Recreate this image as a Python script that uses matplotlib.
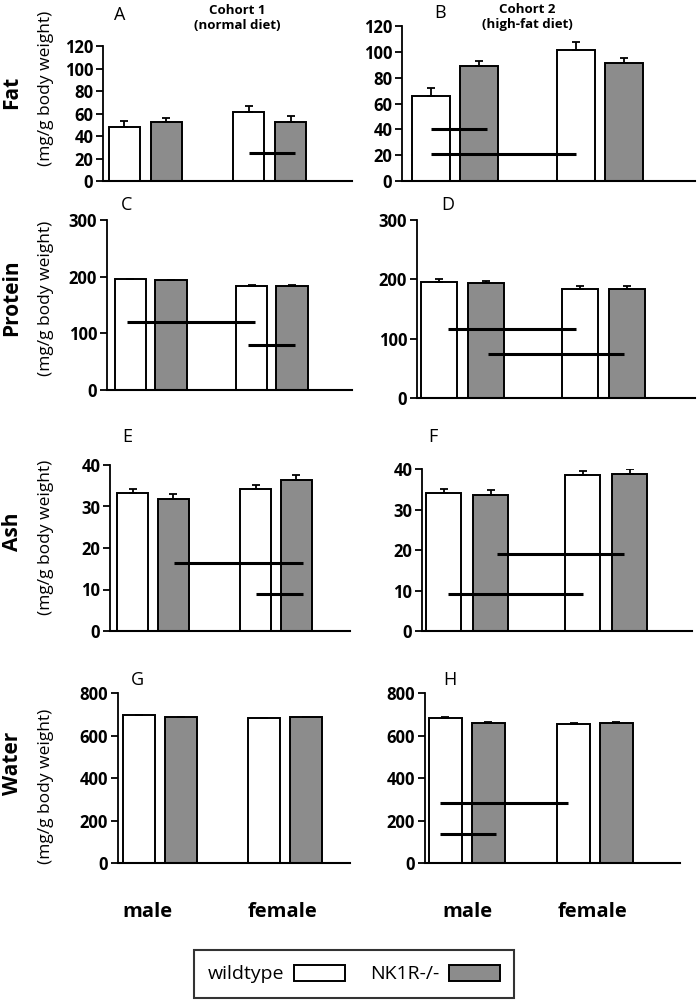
import matplotlib
matplotlib.use("Agg")
import matplotlib.pyplot as plt

plt.rcParams['font.family'] = ['Open Sans', 'DejaVu Sans']

# ---------------- data ----------------
groups = ['male', 'female']
genotypes = ['wildtype', 'NK1R-/-']
panel_letters = ['A', 'B', 'C', 'D', 'E', 'F', 'G', 'H']
row_names = ['Fat', 'Protein', 'Ash', 'Water']
unit_label = '(mg/g body weight)'
cohort_titles = ['Cohort 1\n(normal diet)', 'Cohort 2\n(high-fat diet)']

fat_c1_wt = [48, 61];        fat_c1_wt_err = [5.6, 6.0]
fat_c1_ko = [52.7, 52.7];    fat_c1_ko_err = [3.0, 4.8]
fat_c2_wt = [66, 101.7];     fat_c2_wt_err = [6.3, 6.0]
fat_c2_ko = [89.3, 91.1];    fat_c2_ko_err = [3.6, 4.4]

protein_c1_wt = [196, 184];      protein_c1_wt_err = [0.5, 0.5]
protein_c1_ko = [193.4, 184];    protein_c1_ko_err = [1.5, 1.5]
protein_c2_wt = [195.7, 183.4];  protein_c2_wt_err = [5, 5]
protein_c2_ko = [194, 183.4];    protein_c2_ko_err = [3.4, 5]

ash_c1_wt = [33.2, 34.1];  ash_c1_wt_err = [1.0, 1.1]
ash_c1_ko = [31.8, 36.5];  ash_c1_ko_err = [1.1, 1.0]
ash_c2_wt = [34.1, 38.5];  ash_c2_wt_err = [1.0, 1.1]
ash_c2_ko = [33.7, 38.8];  ash_c2_ko_err = [1.2, 1.1]

water_c1_wt = [696, 684];  water_c1_wt_err = [0, 0]
water_c1_ko = [689, 689];  water_c1_ko_err = [0, 0]
water_c2_wt = [682, 652];  water_c2_wt_err = [5, 6]
water_c2_ko = [657, 657];  water_c2_ko_err = [5, 5]

yticks = {'Fat': [0, 20, 40, 60, 80, 100, 120],
          'Protein': [0, 100, 200, 300],
          'Ash': [0, 10, 20, 30, 40],
          'Water': [0, 200, 400, 600, 800]}

# significance lines: (y, x_start, x_end) in bar-position units
sig_A = [(24.6, 2.96, 4.06)]
sig_B = [(40.3, 0.01, 1.17), (21.2, 0.01, 3.02)]
sig_C = [(120.7, -0.09, 3.07), (79.7, 2.91, 4.06)]
sig_D = [(116.6, 0.18, 2.91), (74.6, 1.04, 3.94)]
sig_E = [(16.5, 1.03, 4.2), (8.8, 3.05, 4.2)]
sig_F = [(19.0, 1.13, 3.84), (9.07, 0.09, 2.97)]
sig_G = []
sig_H = [(284, -0.12, 2.87), (135, -0.12, 1.19)]

panels = [
    ('Fat', fat_c1_wt, fat_c1_wt_err, fat_c1_ko, fat_c1_ko_err, sig_A),
    ('Fat', fat_c2_wt, fat_c2_wt_err, fat_c2_ko, fat_c2_ko_err, sig_B),
    ('Protein', protein_c1_wt, protein_c1_wt_err, protein_c1_ko, protein_c1_ko_err, sig_C),
    ('Protein', protein_c2_wt, protein_c2_wt_err, protein_c2_ko, protein_c2_ko_err, sig_D),
    ('Ash', ash_c1_wt, ash_c1_wt_err, ash_c1_ko, ash_c1_ko_err, sig_E),
    ('Ash', ash_c2_wt, ash_c2_wt_err, ash_c2_ko, ash_c2_ko_err, sig_F),
    ('Water', water_c1_wt, water_c1_wt_err, water_c1_ko, water_c1_ko_err, sig_G),
    ('Water', water_c2_wt, water_c2_wt_err, water_c2_ko, water_c2_ko_err, sig_H),
]

# ---------------- layout (pixels) ----------------
W, H = 697, 1005
# left, right, baseline, top  (pixel)
boxes = [(103, 352, 181, 46), (402, 695, 181, 26),
         (107, 352, 390, 220), (417, 695, 398, 220),
         (110, 350, 631, 465), (422, 692, 631, 469),
         (118, 350, 863, 693), (425, 680, 863, 693)]
# female group offset, bar width, xlim
geo = [(2.96, .74, (-0.51, 5.42)), (3.03, .79, (-0.60, 5.5)),
       (2.99, .77, (-0.58, 5.47)), (3.01, .77, (-0.47, 5.45)),
       (3.04, .77, (-0.56, 5.37)), (2.96, .745, (-0.46, 5.29)),
       (2.98, .76, (-0.5, 5.02)), (2.99, .77, (-0.47, 5.47))]
letter_pos = [(120, 15), (440, 13), (127, 205), (448, 205),
              (127, 437), (433, 437), (137, 680), (450, 680)]

GRAY = '#8c8c8c'
fig = plt.figure(figsize=(W / 100, H / 100), dpi=100)

def fx(px):
    return px / W

def fy(py):
    return 1 - py / H

handles = None
for i, (name, wt, wte, ko, koe, sig) in enumerate(panels):
    l, r, b, t = boxes[i]
    ax = fig.add_axes([fx(l), fy(b), (r - l) / W, (b - t) / H])
    off, w, xl = geo[i]
    xw = [0, off]
    xk = [1, off + 1]
    bw = ax.bar(xw, wt, width=w, color='white', edgecolor='black', linewidth=1.4, zorder=2)
    bk = ax.bar(xk, ko, width=w, color=GRAY, edgecolor='black', linewidth=1.4, zorder=2)
    ax.errorbar(xw, wt, yerr=[[0, 0], wte], fmt='none', ecolor='black',
                elinewidth=1.3, capsize=3, capthick=1.3, zorder=3)
    ax.errorbar(xk, ko, yerr=[[0, 0], koe], fmt='none', ecolor='black',
                elinewidth=1.3, capsize=3, capthick=1.3, zorder=3)
    for (yv, x0, x1) in sig:
        ax.plot([x0, x1], [yv, yv], color='black', lw=2.2, zorder=4, solid_capstyle='butt')
    tk = yticks[name]
    ax.set_ylim(0, tk[-1])
    ax.set_yticks(tk)
    ax.set_xlim(*xl)
    ax.set_xticks([])
    ax.spines['top'].set_visible(False)
    ax.spines['right'].set_visible(False)
    ax.spines['left'].set_linewidth(1.3)
    ax.spines['bottom'].set_linewidth(1.5)
    ax.tick_params(axis='y', direction='out', length=5, width=1.3, pad=2,
                   labelsize=12)
    for lab in ax.get_yticklabels():
        lab.set_fontweight('bold')
    lx, ly = letter_pos[i]
    fig.text(fx(lx), fy(ly), panel_letters[i], fontsize=13, ha='center', va='center')
    if handles is None:
        handles = [bw, bk]

# row labels
row_y = [(92, 88), (298, 298), (532, 537), (763, 786)]
for name, (yb, yu) in zip(row_names, row_y):
    fig.text(fx(12), fy(yb), name, rotation=90, fontsize=15, fontweight='bold',
             ha='center', va='center')
    fig.text(fx(46), fy(yu), unit_label, rotation=90, fontsize=12.5,
             ha='center', va='center')

# cohort titles
fig.text(fx(237), fy(18), cohort_titles[0], fontsize=9.5, fontweight='bold',
         ha='center', va='center', linespacing=1.25)
fig.text(fx(527), fy(17), cohort_titles[1], fontsize=9.5, fontweight='bold',
         ha='center', va='center', linespacing=1.25)

# group labels
for xc, g in zip([147, 283, 467, 592], groups * 2):
    fig.text(fx(xc), fy(912), g, fontsize=14.5, fontweight='bold',
             ha='center', va='center')

# legend
leg = fig.legend(handles, genotypes, ncol=2, markerfirst=False,
                 loc='center', bbox_to_anchor=(fx(354), fy(974)),
                 frameon=True, fancybox=False, fontsize=14,
                 handlelength=2.6, handleheight=0.9, columnspacing=1.3,
                 handletextpad=0.5, borderpad=0.75, borderaxespad=0)
leg.get_frame().set_edgecolor('black')
leg.get_frame().set_linewidth(1.5)

fig.savefig('out.png', dpi=100)
